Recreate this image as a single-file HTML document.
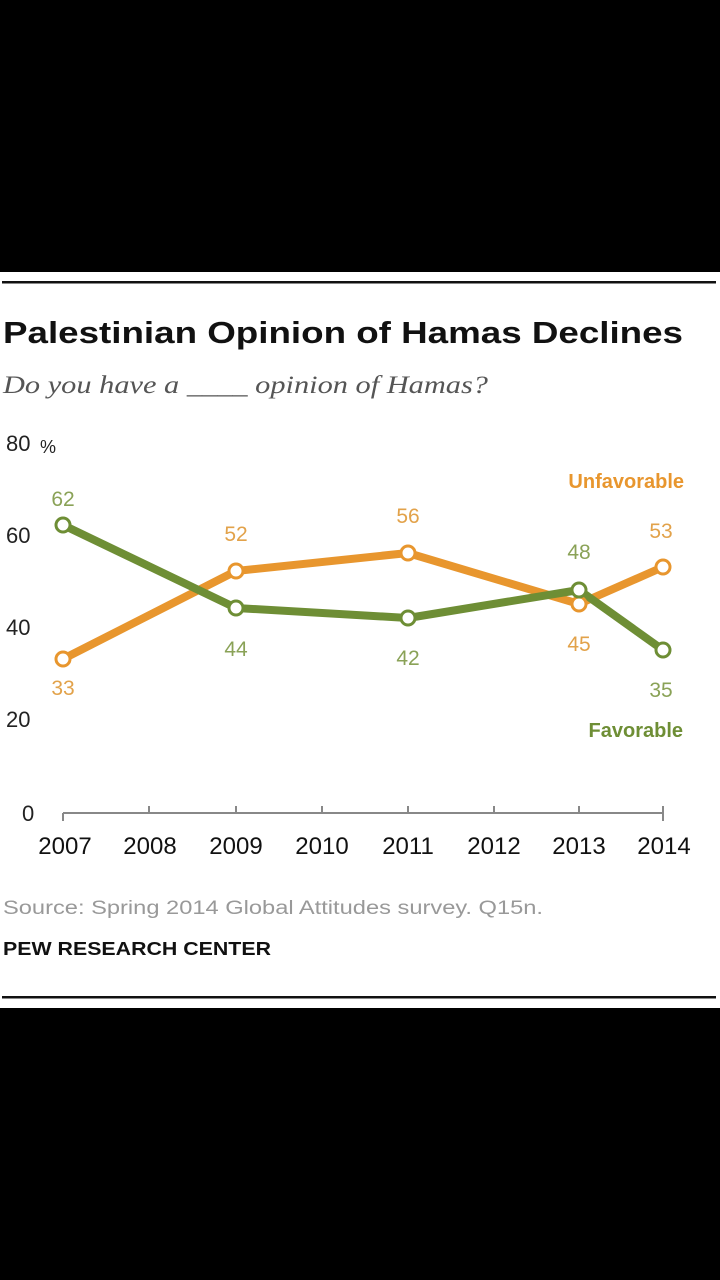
<!DOCTYPE html>
<html><head><meta charset="utf-8"><style>
body{margin:0;background:#000;width:720px;height:1280px;overflow:hidden}
svg{display:block}
</style></head><body>
<svg width="720" height="1280" xmlns="http://www.w3.org/2000/svg" font-family="Liberation Sans, sans-serif">
<rect x="0" y="272" width="720" height="736" fill="#fff"/>
<rect x="2" y="281" width="714" height="2.5" fill="#111"/>
<rect x="2" y="996" width="714" height="2.5" fill="#111"/>
<text x="3" y="343" font-size="31" font-weight="bold" fill="#111" textLength="680" lengthAdjust="spacingAndGlyphs">Palestinian Opinion of Hamas Declines</text>
<text x="3" y="393" font-family="Liberation Serif, serif" font-style="italic" font-size="25" fill="#555" textLength="485" lengthAdjust="spacingAndGlyphs">Do you have a ____ opinion of Hamas?</text>
<g font-size="22" fill="#222">
<text x="6" y="451">80</text><text x="40" y="453" font-size="18">%</text>
<text x="6" y="543">60</text><text x="6" y="635">40</text><text x="6" y="727">20</text><text x="22" y="821">0</text>
</g>
<line x1="63" y1="813" x2="663" y2="813" stroke="#888" stroke-width="2"/>
<g stroke="#888" stroke-width="2">
<line x1="63" y1="813" x2="63" y2="821"/><line x1="149" y1="806" x2="149" y2="813"/><line x1="236" y1="806" x2="236" y2="813"/><line x1="322" y1="806" x2="322" y2="813"/><line x1="408" y1="806" x2="408" y2="813"/><line x1="494" y1="806" x2="494" y2="813"/><line x1="579" y1="806" x2="579" y2="813"/><line x1="663" y1="806" x2="663" y2="821"/>
</g>
<g font-size="24" fill="#111" text-anchor="middle">
<text x="65" y="854">2007</text><text x="150" y="854">2008</text><text x="236" y="854">2009</text><text x="322" y="854">2010</text><text x="408" y="854">2011</text><text x="494" y="854">2012</text><text x="579" y="854">2013</text><text x="664" y="854">2014</text>
</g>
<polyline points="63,659 236,571 408,553 579,604 663,567" fill="none" stroke="#E8962E" stroke-width="8" stroke-linejoin="round"/>
<polyline points="63,525 236,608 408,618 579,590 663,650" fill="none" stroke="#6E8E35" stroke-width="8" stroke-linejoin="round"/>
<g fill="#fff" stroke-width="3">
<circle cx="63" cy="659" r="7" stroke="#E8962E"/><circle cx="236" cy="571" r="7" stroke="#E8962E"/><circle cx="408" cy="553" r="7" stroke="#E8962E"/><circle cx="579" cy="604" r="7" stroke="#E8962E"/><circle cx="663" cy="567" r="7" stroke="#E8962E"/>
<circle cx="63" cy="525" r="7" stroke="#6E8E35"/><circle cx="236" cy="608" r="7" stroke="#6E8E35"/><circle cx="408" cy="618" r="7" stroke="#6E8E35"/><circle cx="579" cy="590" r="7" stroke="#6E8E35"/><circle cx="663" cy="650" r="7" stroke="#6E8E35"/>
</g>
<g font-size="21" text-anchor="middle" fill="#E2A24A">
<text x="63" y="695">33</text><text x="236" y="541">52</text><text x="408" y="523">56</text><text x="579" y="651">45</text><text x="661" y="538">53</text>
</g>
<g font-size="21" text-anchor="middle" fill="#8AA257">
<text x="63" y="506">62</text><text x="236" y="656">44</text><text x="408" y="665">42</text><text x="579" y="559">48</text><text x="661" y="697">35</text>
</g>
<text x="684" y="488" font-size="20" font-weight="bold" fill="#E8962E" text-anchor="end">Unfavorable</text>
<text x="683" y="737" font-size="20" font-weight="bold" fill="#6E8E35" text-anchor="end">Favorable</text>
<text x="3" y="914" font-size="19" fill="#999" textLength="540" lengthAdjust="spacingAndGlyphs">Source: Spring 2014 Global Attitudes survey. Q15n.</text>
<text x="3" y="955" font-size="18" font-weight="bold" fill="#111" textLength="268" lengthAdjust="spacingAndGlyphs">PEW RESEARCH CENTER</text>
</svg>
</body></html>
